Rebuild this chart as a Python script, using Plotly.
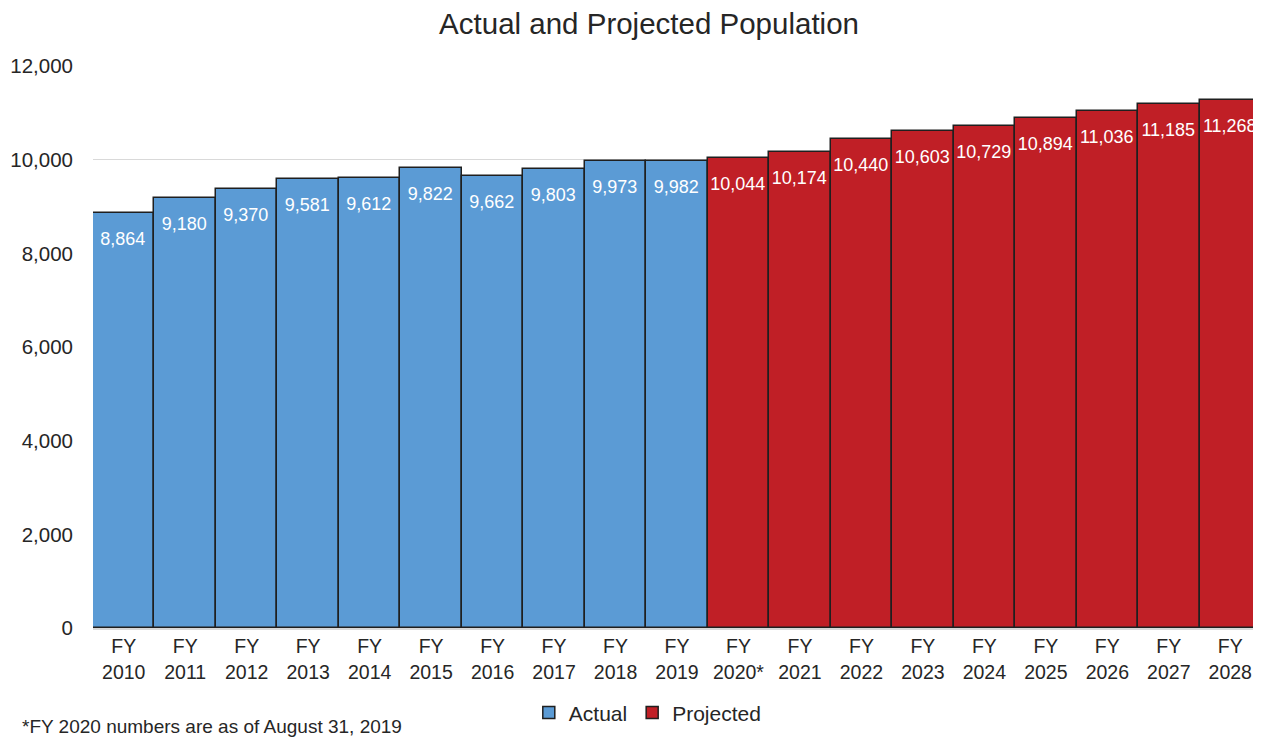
import plotly.graph_objects as go

actual_years = ["FY<br>2010", "FY<br>2011", "FY<br>2012", "FY<br>2013", "FY<br>2014",
                "FY<br>2015", "FY<br>2016", "FY<br>2017", "FY<br>2018", "FY<br>2019"]
actual_values = [8864, 9180, 9370, 9581, 9612, 9822, 9662, 9803, 9973, 9982]
projected_years = ["FY<br>2020*", "FY<br>2021", "FY<br>2022", "FY<br>2023", "FY<br>2024",
                   "FY<br>2025", "FY<br>2026", "FY<br>2027", "FY<br>2028"]
projected_values = [10044, 10174, 10440, 10603, 10729, 10894, 11036, 11185, 11268]

BASE = "Liberation Sans, Arial, sans-serif"
INK = "#262626"


def labels(vals):
    return [f"<span style='font-size:7px'> </span><br>{v:,}" for v in vals]


fig = go.Figure()
fig.add_trace(go.Bar(
    x=actual_years, y=actual_values, name="Actual",
    marker=dict(color="#5B9BD5", line=dict(color="#1F1F1F", width=1.5)),
    text=labels(actual_values), textposition="inside",
    insidetextanchor="end", textangle=0,
    textfont=dict(family=BASE, size=18, color="white"),
))
fig.add_trace(go.Bar(
    x=projected_years, y=projected_values, name="Projected",
    marker=dict(color="#C01F26", line=dict(color="#1F1F1F", width=1.5)),
    text=labels(projected_values), textposition="inside",
    insidetextanchor="end", textangle=0,
    textfont=dict(family=BASE, size=18, color="white"),
))

fig.update_layout(
    width=1253, height=732,
    paper_bgcolor="white", plot_bgcolor="white",
    margin=dict(l=85, r=0, t=58, b=112),
    barmode="overlay", bargap=0,
    font=dict(family=BASE, size=19.5, color=INK),
    title=dict(text="Actual and Projected Population", x=0.5116, xanchor="center",
               y=0.978, yanchor="middle", font=dict(size=29.5, color=INK)),
    uniformtext=dict(mode="show", minsize=12),
    legend=dict(orientation="h", x=0.475, xanchor="center", y=-0.151, yanchor="middle",
                font=dict(size=21, color=INK), itemwidth=30,
                traceorder="normal"),
    annotations=[dict(text="*FY 2020 numbers are as of August 31, 2019", xref="paper",
                      yref="paper", x=-0.0625, xanchor="left", y=-0.176, yanchor="middle",
                      showarrow=False, font=dict(size=19, color=INK))],
)
fig.update_xaxes(showgrid=False, ticks="", showline=True, linecolor="#D9D9D9",
                 linewidth=1.5, tickfont=dict(size=19.5), categoryorder="array",
                 categoryarray=actual_years + projected_years)
fig.update_yaxes(range=[0, 12000], dtick=2000, tickformat=",d", showgrid=True,
                 gridcolor="#D9D9D9", gridwidth=1, zeroline=False, ticks="",
                 tickfont=dict(size=20.5), ticklabelstandoff=19)

fig.write_html("out.html")
